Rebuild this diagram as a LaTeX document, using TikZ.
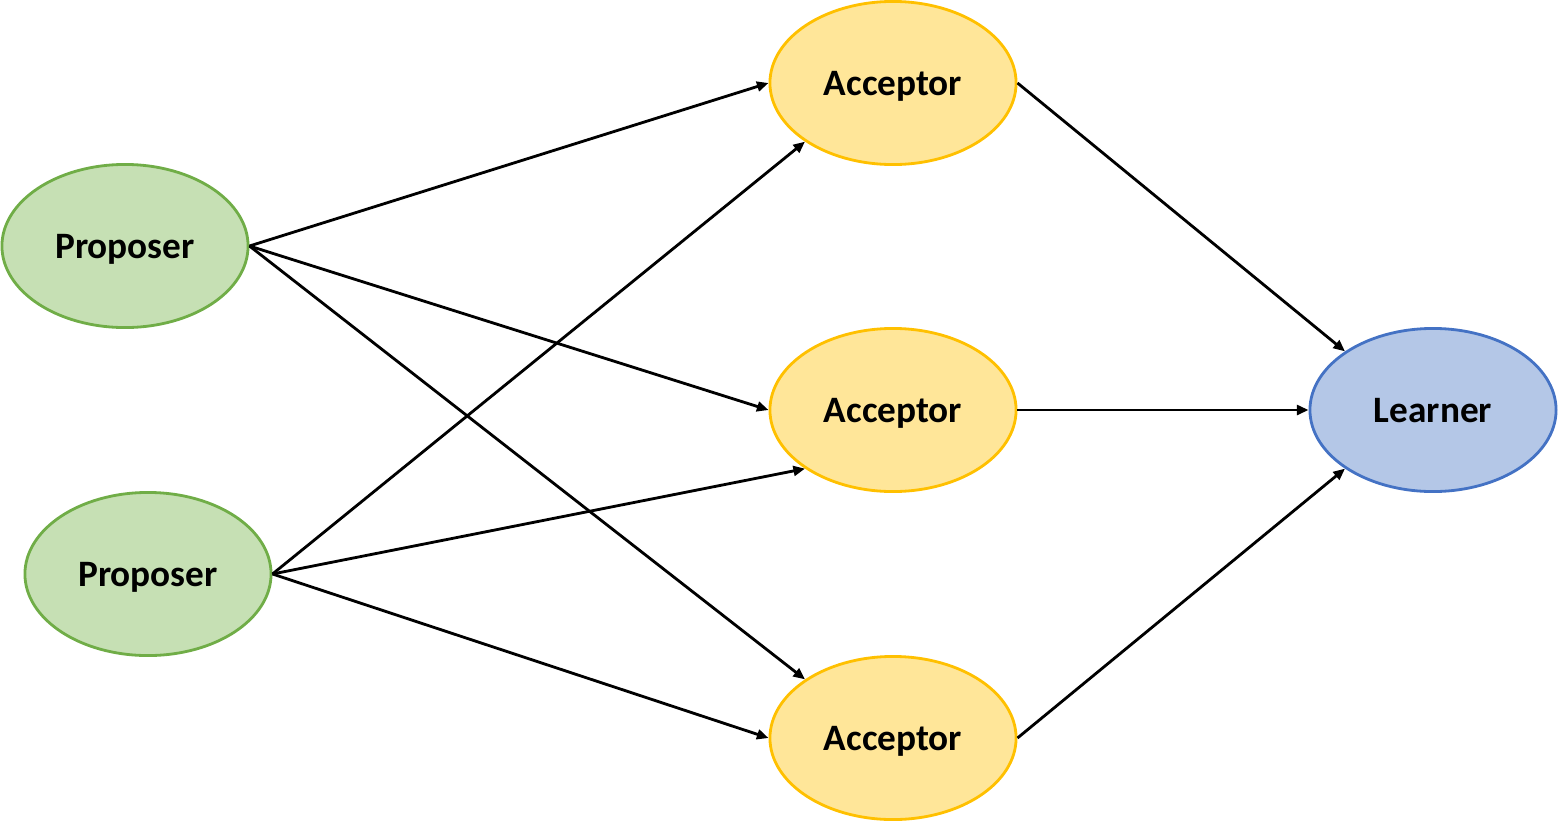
\documentclass[tikz,border=0pt]{standalone}
\usepackage{fontspec}
\setmainfont{Carlito}
\usetikzlibrary{shapes.geometric,arrows.meta}

\definecolor{propfill}{HTML}{C6E0B4}
\definecolor{propdraw}{HTML}{70AD47}
\definecolor{accfill}{HTML}{FFE699}
\definecolor{accdraw}{HTML}{FFC000}
\definecolor{learnfill}{HTML}{B4C7E7}
\definecolor{learndraw}{HTML}{4472C4}

\tikzset{
  role/.style={ellipse, minimum width=2.46cm, minimum height=1.63cm, inner sep=0pt,
    line width=0.8pt, text depth=0pt, font=\fontsize{10.6}{12}\selectfont\bfseries},
  proposer/.style={role, draw=propdraw, fill=propfill},
  acceptor/.style={role, draw=accdraw, fill=accfill},
  learner/.style={role, draw=learndraw, fill=learnfill},
  msg/.style={line width=0.8pt, -{Triangle[length=3.3pt,width=2.8pt]}}
}

\begin{document}
\begin{tikzpicture}[x=0.01cm,y=-0.01cm]
\useasboundingbox (0,0) rectangle (1558,821);

% proposers
\node[proposer] (p1) at (125,246) {Proposer};
\node[proposer] (p2) at (148,574) {Proposer};

% acceptors
\node[acceptor] (a1) at (893,83) {Acceptor};
\node[acceptor] (a2) at (893,410) {Acceptor};
\node[acceptor] (a3) at (893,738) {Acceptor};

% learner
\node[learner] (l) at (1433,410) {Learner};

% prepare / accept messages
\draw[msg] (p1.east) -- (a1.west);
\draw[msg] (p1.east) -- (a2.west);
\draw[msg] (p1.east) -- (a3.north west);
\draw[msg] (p2.east) -- (a1.south west);
\draw[msg] (p2.east) -- (a2.south west);
\draw[msg] (p2.east) -- (a3.west);

% accepted values to the learner
\draw[msg] (a1.east) -- (l.north west);
\draw[msg] (a2.east) -- (l.west);
\draw[msg] (a3.east) -- (l.south west);

\end{tikzpicture}
\end{document}
